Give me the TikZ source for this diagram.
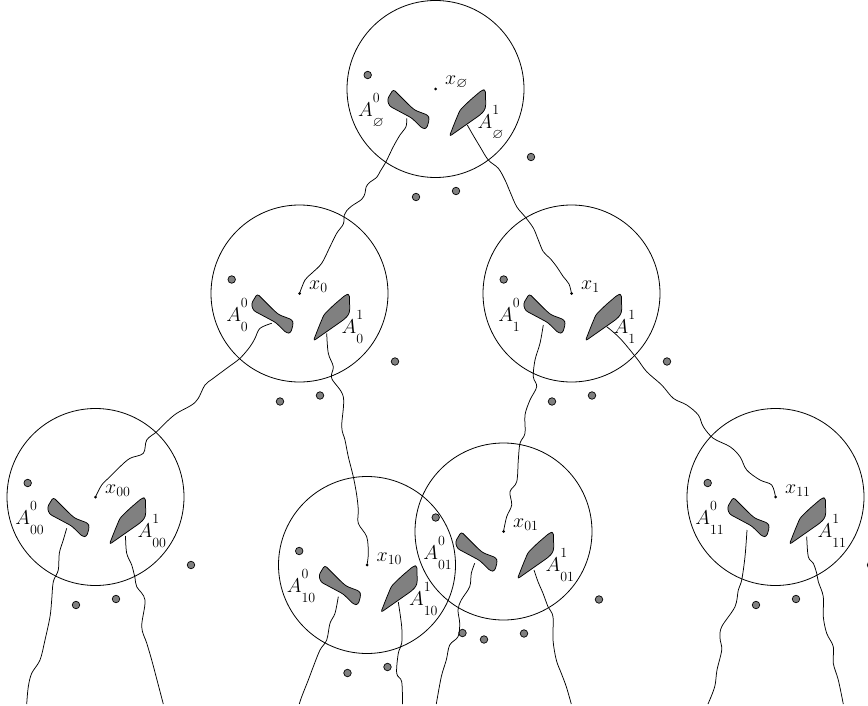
\RequirePackage{fix-cm}
\documentclass[tikz,border=0pt]{standalone}
\usepackage{amssymb}
\tikzset{
  ring/.style={draw, circle, minimum size=177pt, inner sep=0pt, line width=0.8pt},
  ctr/.style={fill, circle, minimum size=3pt, inner sep=0pt},
  gdot/.style={draw, fill=gray, circle, minimum size=7.5pt, inner sep=0pt, line width=0.7pt},
  blob/.style={draw, fill=gray, line width=0.75pt, rounded corners=2.5pt, line join=round},
  walk/.style={line width=0.75pt, line join=round},
  lab/.style={inner sep=0pt, font=\fontsize{20}{24}\selectfont},
}
\newcommand\Alab[2]{$A\rlap{\raisebox{14pt}{$\scriptstyle #1$}}\raisebox{-10pt}{$\scriptstyle #2$}$}
\newcommand\drawunit[4]{%
\begin{scope}[shift={(#2,#3)}]
  \node[ring] (#1) at (0,0) {};
  \node[ctr] (#1x) at (0,0) {};
  \node[lab, anchor=base west] (#1lx) at (9.5,-4) {$x_{#4}$};
  \filldraw[blob] (-42.2,0.3) -- (-25.5,17) -- (-20.5,21.3) -- (-7.2,26.3) -- (-6.2,30.3) -- (-8.8,39.5) -- (-12.8,39.7) -- (-23.8,29) -- (-46.2,17) -- (-48.2,10.3) -- cycle;
  \filldraw[blob] (13.8,47.5) -- (19.5,33) -- (24.5,21) -- (34.5,11.3) -- (46.2,1.3) -- (49.8,0.5) -- (50.3,17) -- (49,21.5) -- (44.5,26) -- (29.5,36.5) -- cycle;
  \node[lab, anchor=base east] (#1la) at (-51.5,27.5) {\Alab{0}{#4}};
  \node[lab, anchor=base west] (#1lb) at (42,40) {\Alab{1}{#4}};
  \node[gdot] (#1d1) at (-67.8,-14) {};
  \node[gdot] (#1d2) at (95.5,68) {};
  \node[gdot] (#1d3) at (-19.5,108) {};
  \node[gdot] (#1d4) at (20.5,102) {};
\end{scope}}
\begin{document}
\begin{tikzpicture}[x=1pt, y=-1pt]
\useasboundingbox (0,0) rectangle (868,706);
\clip (0,0) rectangle (868,706);
\drawunit{c}{435.5}{89}{\varnothing}
\drawunit{cz}{299.5}{293.5}{0}
\drawunit{co}{571.5}{293.5}{1}
\drawunit{czz}{95.5}{497}{00}
\drawunit{coz}{367}{565}{10}
\drawunit{czo}{503.5}{531.5}{01}
\drawunit{coo}{775.5}{497}{11}
% start points of the walks
\coordinate (s1) at (406.7,118.3);
\coordinate (s2) at (467.3,125);
\coordinate (s3) at (271.7,323.3);
\coordinate (s4) at (326.7,333.3);
\coordinate (s5) at (543.3,325);
\coordinate (s6) at (606.7,326.7);
\coordinate (b1) at (66.7,528.3);   \coordinate (e1) at (26.7,704);
\coordinate (b2) at (125.5,536);    \coordinate (e2) at (163.3,704);
\coordinate (b3) at (338.3,596.7);  \coordinate (e3) at (299.3,704);
\coordinate (b4) at (398.3,602);    \coordinate (e4) at (402.5,704);
\coordinate (b5) at (474.7,563.3);  \coordinate (e5) at (436.3,704);
\coordinate (b6) at (534,570);      \coordinate (e6) at (571.3,704);
\coordinate (b7) at (747,530);      \coordinate (e7) at (708,704);
\coordinate (b8) at (806.7,536.7);  \coordinate (e8) at (843.3,704);
\begin{scope}[walk]
\draw plot[smooth, tension=0.55] coordinates {(s1) (406,126.7) (400,135) (393.3,146.7) (386,161.7) (380,171.7) (376.7,177.3) (369.3,182.7) (366,187.3) (365,193.3) (361.7,199.3) (351.7,206) (346.7,210.7) (344.3,215) (343.3,224) (336.7,233.3) (330,246.7) (321.7,263.3) (311.7,273.3) (305,280) (czx)};
\draw plot[smooth, tension=0.55] coordinates {(s2) (473,135) (480,146.7) (488.3,160) (498.3,168.3) (505,180) (510,191.7) (516.7,206.7) (525,216.7) (533.3,228) (538.3,240) (543.3,251.7) (550,258.3) (556.7,266.7) (563.3,276.7) (569,284) (cox)};
\draw plot[smooth, tension=0.55] coordinates {(s3) (260,328.3) (255,338.3) (250,346.7) (240,358.3) (226.7,368.3) (213.3,378.3) (205,385) (198.3,398.3) (191.7,405) (176.7,413.3) (166.7,421.7) (156.7,431.7) (146.7,440) (143.3,453.3) (130,458.3) (120,466.7) (110,476.7) (101.7,485) (czzx)};
\draw plot[smooth, tension=0.55] coordinates {(s4) (328.3,353.3) (333.3,366.7) (331.7,378.3) (343.3,396.7) (341.7,426.7) (345,440) (348.3,456.7) (353.3,476.7) (356.7,495) (358.3,510) (358.3,523.3) (366.7,536.7) (368.3,553.3) (cozx)};
\draw plot[smooth, tension=0.55] coordinates {(s5) (540,343.3) (535,360) (533.3,376.7) (536.7,386.7) (530,400) (525,415) (525,433.3) (520,443.3) (518.3,460) (516.7,481.7) (510,491.7) (511.7,505) (506.7,516.7) (czox)};
\draw plot[smooth, tension=0.55] coordinates {(s6) (620,338.3) (636.7,358.3) (646.7,371.7) (661.7,385) (673.3,398.3) (686.7,405) (698.3,415) (703.3,426.7) (713.3,438.3) (730,446.7) (740,456.7) (746.7,470) (760,480) (771.7,485) (coox)};
\draw plot[smooth, tension=0.55] coordinates {(b1) (63.3,540) (59.3,553.3) (58.3,570) (53.3,581.7) (51.7,600) (50,616.7) (45,640) (40,660) (31.7,673.3) (28.3,686.7) (e1)};
\draw plot[smooth, tension=0.55] coordinates {(b2) (126.7,553.3) (131.7,565) (135,578) (136.7,586.7) (145,600) (141.7,626.7) (146.7,643) (151.7,660) (157,680) (e2)};
\draw plot[smooth, tension=0.55] coordinates {(b3) (335,613.3) (330,623.3) (326.7,640) (320,650) (313.3,666.7) (308.3,680) (301.7,696.7) (e3)};
\draw plot[smooth, tension=0.55] coordinates {(b4) (401.7,626.7) (401.7,643.3) (398.3,653.3) (396.7,673.3) (401.7,681.7) (e4)};
\draw plot[smooth, tension=0.55] coordinates {(b5) (471.3,573.3) (469.7,586.7) (461.3,600) (458,610) (459.7,623.3) (458,636.7) (449.7,645) (446.3,660) (441.3,676.7) (e5)};
\draw plot[smooth, tension=0.55] coordinates {(b6) (538,581.7) (543,593.3) (548,606.7) (553,616.7) (553,640) (556.3,660) (561.3,673.3) (566.3,686.7) (e6)};
\draw plot[smooth, tension=0.55] coordinates {(b7) (745,556.7) (741.7,580) (738.3,590) (735,606.7) (721.7,626.7) (720,638) (721.7,650) (717,670) (714.7,686.7) (e7)};
\draw plot[smooth, tension=0.55] coordinates {(b8) (808.3,556.7) (813.3,563.3) (816.7,573.3) (818.3,581.7) (823.3,596.7) (823.3,616.7) (826.7,633.3) (833.3,646.7) (833.3,663.3) (838.3,680) (e8)};
\end{scope}
\end{tikzpicture}
\end{document}
